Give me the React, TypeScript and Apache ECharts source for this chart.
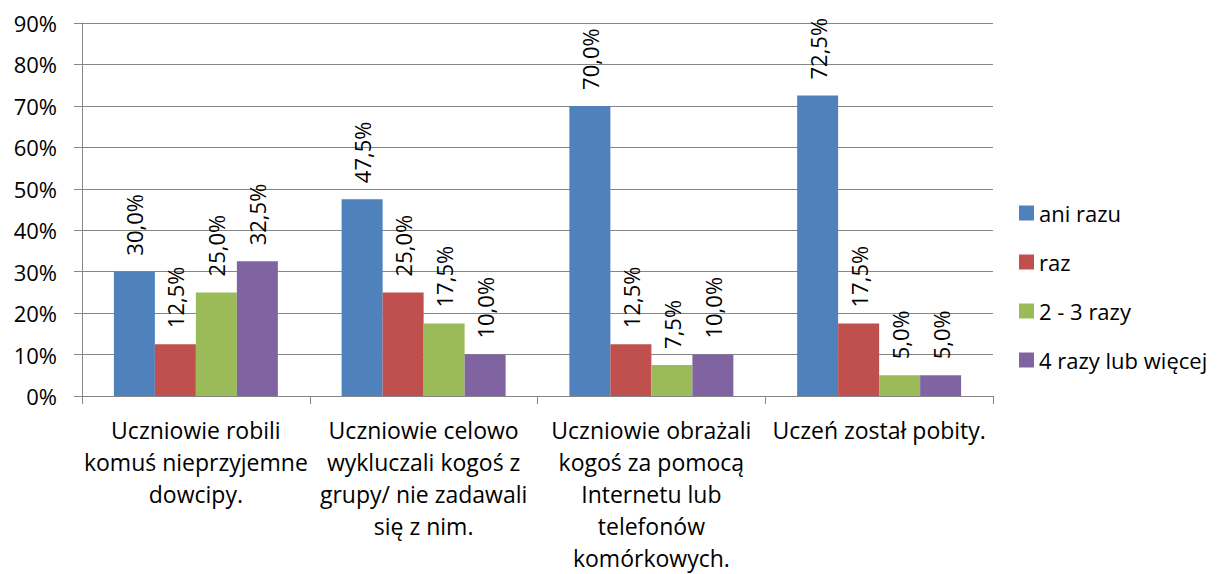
import React, { useEffect, useRef } from "react";
import * as echarts from "echarts";

const categories = [
  "Uczniowie robili\nkomuś nieprzyjemne\ndowcipy.",
  "Uczniowie celowo\nwykluczali kogoś z\ngrupy/ nie zadawali\nsię z nim.",
  "Uczniowie obrażali\nkogoś za pomocą\nInternetu lub\ntelefonów\nkomórkowych.",
  "Uczeń został pobity.",
];
const seriesNames = ["ani razu", "raz", "2 - 3 razy", "4 razy lub więcej"];
const aniRazu = [30.0, 47.5, 70.0, 72.5];
const raz = [12.5, 25.0, 12.5, 17.5];
const dwaTrzy = [25.0, 17.5, 7.5, 5.0];
const czteryWiecej = [32.5, 10.0, 10.0, 5.0];
const colors = ["#4F81BD", "#C0504D", "#9BBB59", "#8064A2"];

const FONT = "Open Sans";

export default function App() {
  const ref = useRef<HTMLDivElement>(null);
  useEffect(() => {
    if (!ref.current) return;
    const chart = echarts.init(ref.current, undefined, { renderer: "svg" });
    const data = [aniRazu, raz, dwaTrzy, czteryWiecej];
    chart.setOption({
      animation: false,
      textStyle: { fontFamily: FONT },
      grid: { left: 82, right: 226, top: 23, bottom: 177, containLabel: false },
      legend: {
        orient: "vertical",
        left: 1014,
        top: 197,
        itemWidth: 15,
        itemHeight: 15,
        itemGap: 27,
        icon: "rect",
        textStyle: { fontSize: 22, color: "#000", fontFamily: FONT, padding: [0, 0, 0, 0] },
        data: seriesNames,
      },
      xAxis: {
        type: "category",
        data: categories,
        axisLine: { lineStyle: { color: "#868686" } },
        axisTick: { show: true, length: 8, lineStyle: { color: "#868686" } },
        axisLabel: {
          interval: 0,
          fontSize: 23,
          lineHeight: 32,
          color: "#000",
          margin: 18,
          fontFamily: FONT,
          align: "center",
        },
      },
      yAxis: {
        type: "value",
        min: 0,
        max: 90,
        interval: 10,
        axisLine: { show: true, lineStyle: { color: "#868686" } },
        axisTick: { show: true, length: 8, lineStyle: { color: "#868686" } },
        splitLine: { lineStyle: { color: "#868686" } },
        axisLabel: {
          formatter: (v: number) => `${v}%`,
          fontSize: 22,
          color: "#000",
          margin: 25,
          fontFamily: FONT,
        },
      },
      series: data.map((d, i) => ({
        name: seriesNames[i],
        type: "bar",
        data: d,
        barGap: "0%",
        barCategoryGap: "28%",
        itemStyle: { color: colors[i] },
        label: {
          show: true,
          position: "top",
          rotate: 90,
          align: "left",
          verticalAlign: "middle",
          distance: 16,
          fontSize: 22,
          color: "#000",
          fontFamily: FONT,
          formatter: (p: any) => `${p.value.toFixed(1).replace(".", ",")}%`,
        },
      })),
    });
    return () => chart.dispose();
  }, []);
  return (
    <div
      ref={ref}
      style={{ position: "absolute", left: 0, top: 0, width: 1219, height: 574 }}
    />
  );
}
